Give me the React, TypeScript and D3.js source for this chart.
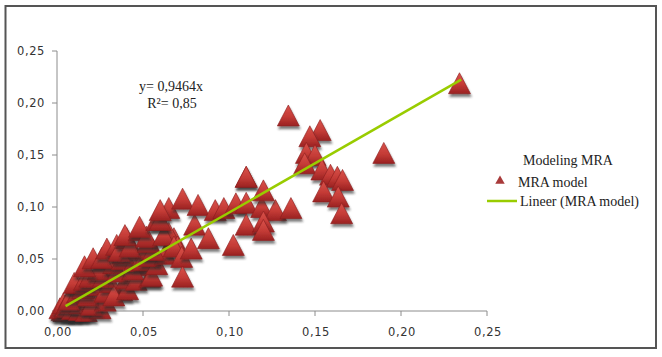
import React from "react";
import * as d3 from "d3";

const xTicks = [0, 0.05, 0.1, 0.15, 0.2, 0.25];
const yTicks = [0, 0.05, 0.1, 0.15, 0.2, 0.25];

const xValues = [
  0.004, 0.008, 0.012, 0.015, 0.003,
  0.0017, 0.0037, 0.005, 0.009, 0.013, 0.006, 0.017, 0.025, 0.0134, 0.021, 0.020, 0.0076, 0.028, 0.007,
  0.012, 0.018, 0.0115, 0.015, 0.010, 0.022, 0.028, 0.0376, 0.031, 0.033, 0.041, 0.016, 0.019, 0.027,
  0.0405, 0.046, 0.054, 0.030, 0.049, 0.024, 0.035, 0.044, 0.016, 0.021, 0.033, 0.026, 0.038, 0.045,
  0.0385, 0.044, 0.029, 0.0347, 0.036, 0.0405, 0.055, 0.050, 0.058, 0.054, 0.063, 0.052, 0.0424, 0.056,
  0.053, 0.0395, 0.048, 0.052, 0.068, 0.065, 0.062, 0.048, 0.058, 0.060, 0.070, 0.068, 0.0725, 0.078,
  0.073, 0.065, 0.060, 0.080, 0.088, 0.1025, 0.073, 0.082, 0.092, 0.097, 0.104, 0.110, 0.110,
  0.119, 0.127, 0.136, 0.110, 0.120, 0.120, 0.120, 0.110, 0.1345, 0.153, 0.147, 0.145, 0.150, 0.144,
  0.154, 0.159, 0.163, 0.166, 0.155, 0.1635, 0.1655, 0.19, 0.234,
];

const yValues = [
  0.0, 0.0, 0.0, 0.002, 0.001,
  0.0026, 0.0074, 0.004, 0.002, 0.001, 0.008, 0.0, 0.0026, 0.0074, 0.0106, 0.006, 0.0138, 0.010, 0.011,
  0.018, 0.015, 0.0266, 0.0218, 0.027, 0.025, 0.0186, 0.020, 0.028, 0.015, 0.021, 0.030, 0.033, 0.033,
  0.0314, 0.030, 0.033, 0.044, 0.044, 0.040, 0.038, 0.040, 0.043, 0.0507, 0.046, 0.051, 0.050, 0.048,
  0.0555, 0.060, 0.060, 0.0635, 0.058, 0.070, 0.034, 0.049, 0.045, 0.053, 0.055, 0.060, 0.062, 0.0587,
  0.0667, 0.073, 0.078, 0.0715, 0.070, 0.075, 0.073, 0.081, 0.0875, 0.0875, 0.062, 0.062, 0.052, 0.060,
  0.033, 0.099, 0.097, 0.083, 0.070, 0.0635, 0.108, 0.102, 0.097, 0.099, 0.1035, 0.104, 0.129,
  0.100, 0.097, 0.099, 0.083, 0.086, 0.078, 0.116, 0.129, 0.188, 0.174, 0.168, 0.152, 0.150, 0.142,
  0.136, 0.131, 0.129, 0.126, 0.115, 0.110, 0.094, 0.152, 0.219,
];

const slope = 0.9464;
const trendStart = 0.005;
const trendEnd = 0.235;
const equationText = "y= 0,9464x";
const r2Text = "R²= 0,85";
const legendTitle = "Modeling MRA";
const seriesName = "MRA model";
const trendName = "Lineer (MRA model)";

const fmt = (v: number) => v.toFixed(2).replace(".", ",");

export default function App() {
  const x = d3.scaleLinear().domain([0, 0.25]).range([57, 487]);
  const y = d3.scaleLinear().domain([0, 0.25]).range([311, 51]);
  const tri = d3.symbol().type(d3.symbolTriangle).size(220);
  const triPath = (cx: number, cy: number) => {
    const w = 11, h = 10.5;
    return `M${cx},${cy - h}L${cx + w},${cy + h}L${cx - w},${cy + h}Z`;
  };
  const line = d3.line<number>().x((d) => x(d)).y((d) => y(d * slope));
  const pts = xValues.map((v, i) => [v, yValues[i]] as [number, number]);
  const axisColor = "#8c8c8c";
  const tickFont = "'DejaVu Sans', sans-serif";
  const serif = "'Liberation Serif', 'Times New Roman', serif";

  return (
    <svg width={662} height={357} style={{ position: "absolute", left: 0, top: 0 }}>
      <defs>
        <linearGradient id="tg" x1="0" y1="0" x2="0" y2="1">
          <stop offset="0" stopColor="#d9524b" />
          <stop offset="0.55" stopColor="#c43b36" />
          <stop offset="1" stopColor="#9a2222" />
        </linearGradient>
        <filter id="sh" x="-50%" y="-50%" width="200%" height="200%">
          <feGaussianBlur in="SourceAlpha" stdDeviation="1.2" />
          <feOffset dx="1" dy="3" result="ob" />
          <feFlood floodColor="#2a2a2a" floodOpacity="0.6" />
          <feComposite in2="ob" operator="in" />
          <feMerge>
            <feMergeNode />
            <feMergeNode in="SourceGraphic" />
          </feMerge>
        </filter>
      </defs>
      <rect x={0} y={0} width={662} height={357} fill="#fff" />
      <rect x={5.5} y={6} width={650.5} height={342} fill="none" stroke="#555" strokeWidth={2} />

      {/* axes */}
      <line x1={57} x2={57} y1={51} y2={311} stroke={axisColor} />
      <line x1={57} x2={487} y1={311} y2={311} stroke={axisColor} />
      {yTicks.map((t) => (
        <g key={"y" + t}>
          <line x1={52} x2={57} y1={y(t)} y2={y(t)} stroke={axisColor} />
          <text x={45} y={y(t) + 4} textAnchor="end" fontFamily={tickFont} fontSize={11.5} fill="#333" letterSpacing={0.6}>
            {fmt(t)}
          </text>
        </g>
      ))}
      {xTicks.map((t) => (
        <g key={"x" + t}>
          <line x1={x(t)} x2={x(t)} y1={311} y2={316} stroke={axisColor} />
          <text x={x(t) + 1} y={336} textAnchor="middle" fontFamily={tickFont} fontSize={11.5} fill="#333" letterSpacing={0.6}>
            {fmt(t)}
          </text>
        </g>
      ))}

      {/* points */}
      {pts.map(([a, b], i) => (
        <path key={i} d={triPath(x(a), y(b))} fill="url(#tg)" stroke="#8a1d1d" strokeWidth={0.6} filter="url(#sh)" />
      ))}

      {/* trend line */}
      <path d={line([trendStart, trendEnd]) || ""} stroke="#99cc00" strokeWidth={2.5} fill="none" />

      {/* equation */}
      <text x={171} y={91} textAnchor="middle" fontFamily={serif} fontSize={14} fill="#222">{equationText}</text>
      <text x={172} y={108} textAnchor="middle" fontFamily={serif} fontSize={14} fill="#222">{r2Text}</text>

      {/* legend */}
      <text x={568} y={165} textAnchor="middle" fontFamily={serif} fontSize={14} fill="#222">{legendTitle}</text>
      <path d={tri() || ""} transform="translate(500,181) scale(0.42)" fill="#a83a3a" />
      <text x={518} y={187} fontFamily={serif} fontSize={14} fill="#222">{seriesName}</text>
      <line x1={487} x2={517} y1={201} y2={201} stroke="#99cc00" strokeWidth={2.5} />
      <text x={520} y={206} fontFamily={serif} fontSize={14} fill="#222">{trendName}</text>
    </svg>
  );
}
